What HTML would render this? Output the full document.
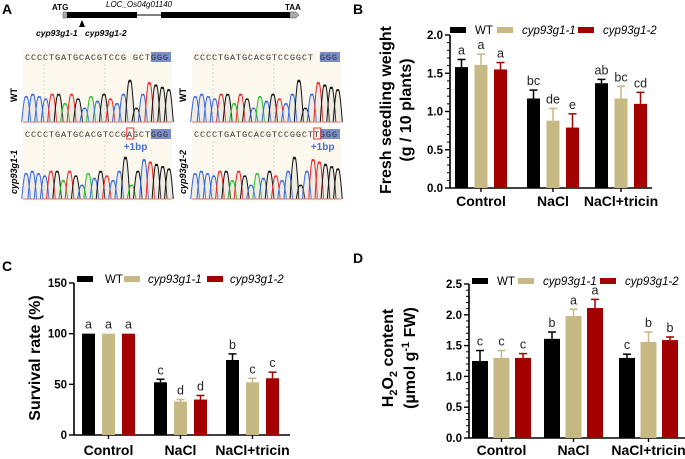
<!DOCTYPE html>
<html><head><meta charset="utf-8"><style>
body{margin:0;background:#fff;width:685px;height:459px;overflow:hidden}
svg{position:absolute;left:0;top:0;font-family:"Liberation Sans",Arial,sans-serif}
</style></head><body>
<svg id="fig" width="685" height="459"></svg>
<script>
// ---- data ----
const categories = ["Control","NaCl","NaCl+tricin"];
const seriesNames = ["WT","cyp93g1-1","cyp93g1-2"];
const colors = ["#000000","#c6b983","#a30000"];
// Panel B: fresh weight
const bWT = [1.58,1.17,1.37], bC1 = [1.61,0.88,1.17], bC2 = [1.55,0.79,1.10];
const bErrWT = [0.10,0.11,0.05], bErrC1 = [0.14,0.16,0.16], bErrC2 = [0.09,0.18,0.15];
const bLetters = [["a","a","a"],["bc","de","e"],["ab","bc","cd"]];
const bTicks = ["0.0","0.5","1.0","1.5","2.0"];
// Panel C: survival rate
const cWT = [100,52,74], cC1 = [100,33,52], cC2 = [100,35,56];
const cErrWT = [0,3,6], cErrC1 = [0,2,4], cErrC2 = [0,4,6];
const cLetters = [["a","a","a"],["c","d","d"],["b","c","c"]];
const cTicks = ["0","50","100","150"];
// Panel D: H2O2
const dWT = [1.25,1.61,1.30], dC1 = [1.30,1.98,1.56], dC2 = [1.30,2.11,1.59];
const dErrWT = [0.17,0.11,0.06], dErrC1 = [0.12,0.11,0.16], dErrC2 = [0.07,0.14,0.05];
const dLetters = [["c","c","c"],["b","a","a"],["c","b","b"]];
const dTicks = ["0.0","0.5","1.0","1.5","2.0","2.5"];
// Panel A: chromatogram sequences and peak heights
const seqs = ["CCCCTGATGCACGTCCGGCTGGG","CCCCTGATGCACGTCCGGCTGGG","CCCCTGATGCACGTCCGAGCTGGG","CCCCTGATGCACGTCCGGCTTGGG"];
const peakH = [0.55,0.6,0.55,0.5,0.6,0.6,0.4,0.6,0.5,0.3,0.55,0.45,0.6,0.5,0.4,0.6,0.9,0.3,0.6,0.85,0.8,0.75,0.7,0.65];

const NS="http://www.w3.org/2000/svg";
const fig=document.getElementById('fig');
function mk(tag,attrs,parent){const e=document.createElementNS(NS,tag);for(const k in attrs)e.setAttribute(k,attrs[k]);(parent||fig).appendChild(e);return e;}
function txt(s,attrs,parent){const e=mk('text',attrs,parent);e.textContent=s;return e;}

function chart(cfg, vals, errs, letters, ticks){
  const g=mk('g',{});
  
  
  const y=v=>cfg.y0-(v/cfg.max)*(cfg.y0-cfg.yTop);
  const ya=mk('line',{x1:cfg.ax,y1:cfg.yTop,x2:cfg.ax,y2:cfg.y0,stroke:'#000','stroke-width':1.6},g);
  
  
  const xa=mk('line',{x1:cfg.ax,y1:cfg.y0,x2:cfg.xEnd,y2:cfg.y0,stroke:'#000','stroke-width':1.6},g);
  
  
  ticks.forEach((t,i)=>{
    const v=parseFloat(t), yy=y(v);
    mk('line',{x1:cfg.ax-5,y1:yy,x2:cfg.ax,y2:yy,stroke:'#000','stroke-width':1.4},g);
    const tl=txt(t,{x:cfg.ax-7,y:yy+4,'text-anchor':'end','font-size':11.5,'font-weight':'bold'},g);
    
    
    if(cfg.minor && i<ticks.length-1){
      const nv=parseFloat(ticks[i+1]);
      for(let k=1;k<5;k++){const my=y(v+(nv-v)*k/5);mk('line',{x1:cfg.ax-3,y1:my,x2:cfg.ax,y2:my,stroke:'#000','stroke-width':1},g);}
    }
  });
  categories.forEach((c,ci)=>{
    const gx=cfg.groupX[ci];
    for(let s=0;s<3;s++){
      const bx=gx+s*cfg.step, v=vals[s][ci], e=errs[s][ci];
      const r=mk('rect',{x:bx,y:y(v),width:cfg.bw,height:cfg.y0-y(v),fill:colors[s]},g);
      
      
      const cx=bx+cfg.bw/2;
      if(e>0){
        mk('line',{x1:cx,y1:y(v),x2:cx,y2:y(v+e),stroke:colors[s],'stroke-width':1.5},g);
        mk('line',{x1:cx-4,y1:y(v+e),x2:cx+4,y2:y(v+e),stroke:colors[s],'stroke-width':1.5},g);
      }
      const l=txt(letters[ci][s],{x:cx,y:y(v+e)-5,'text-anchor':'middle','font-size':12.5,fill:'#222'},g);
      
      
    }
    const mid=gx+cfg.step+cfg.bw/2;
    mk('line',{x1:mid,y1:cfg.y0,x2:mid,y2:cfg.y0+4,stroke:'#000','stroke-width':1.4},g);
    const cl=txt(c,{x:mid,y:cfg.catY,'text-anchor':'middle','font-size':14,'font-weight':'bold'},g);
    
    
  });
  cfg.leg.forEach((p,s)=>{
    const lr=mk('rect',{x:p[0],y:cfg.legY-3,width:16,height:6,fill:colors[s]},g);
    
    
    const lt=txt(seriesNames[s],{x:p[1],y:cfg.legY+4,'font-size':11.5,'font-style':s?'italic':'normal'},g);
    
    
  });
  return g;
}

chart({name:'chart-b',ax:450,yTop:35,y0:188,max:2.0,xEnd:652,groupX:[455,527,595],step:19.5,bw:13,catY:206,minor:true,legY:30,leg:[[450,475],[497,522],[578,603]]},
  [bWT,bC1,bC2],[bErrWT,bErrC1,bErrC2],bLetters,bTicks);
chart({name:'chart-c',ax:74,yTop:283,y0:435,max:150,xEnd:290,groupX:[82,154,226],step:20,bw:13,catY:455,minor:false,legY:279,leg:[[77,105],[124,148],[207,230]]},
  [cWT,cC1,cC2],[cErrWT,cErrC1,cErrC2],cLetters,cTicks);
chart({name:'chart-d',ax:469,yTop:284,y0:438,max:2.5,xEnd:685,groupX:[472,544,619],step:21.5,bw:16,catY:455,minor:true,legY:281,leg:[[472,497],[518,543],[600,625]]},
  [dWT,dC1,dC2],[dErrWT,dErrC1,dErrC2],dLetters,dTicks);

function ytitle(lines,x0,cy,name,gap){
  const t=mk('text',{transform:`translate(${x0},${cy}) rotate(-90)`,'text-anchor':'middle','font-size':16,'font-weight':'bold'});
  
  
  lines.forEach((l,i)=>{const ts=mk('tspan',{x:0,dy:i?gap:0},t);ts.innerHTML=l;});
}
ytitle(["Fresh seedling weight","(g / 10 plants)"],391,110,'y-axis-title-b',20);
ytitle(["Survival rate (%)"],40,358,'y-axis-title-c',0);
ytitle(["H<tspan font-size='11' dy='4'>2</tspan><tspan dy='-4'>O</tspan><tspan font-size='11' dy='4'>2</tspan><tspan dy='-4'> content</tspan>","(µmol g<tspan font-size='11' dy='-6'>-1</tspan><tspan dy='6'> FW)</tspan>"],393,358,'y-axis-title-d',22);

[["A",2,14],["B",353,14],["C",2,271],["D",353,263]].forEach(p=>{
  const l=txt(p[0],{x:p[1],y:p[2],'font-size':14,'font-weight':'bold'});
  
  
});

const gene=mk('g',{});


mk('rect',{x:63,y:12,width:4,height:6,fill:'#aaa',stroke:'#555','stroke-width':0.5},gene);
mk('rect',{x:67,y:12,width:70,height:6,fill:'#000'},gene);
mk('line',{x1:137,y1:15,x2:161,y2:15,stroke:'#000','stroke-width':1},gene);
mk('rect',{x:161,y:12,width:129,height:6,fill:'#000'},gene);
mk('path',{d:'M290 12 L296 12 L299 15 L296 18 L290 18Z',fill:'#aaa',stroke:'#555','stroke-width':0.5},gene);
mk('path',{d:'M82 20 L79 27 L85 27Z',fill:'#000'},gene);
txt('ATG',{x:52,y:10,'font-size':8,'font-weight':'bold'},gene);
txt('LOC_Os04g01140',{x:106,y:7,'font-size':8,'font-style':'italic'},gene);
txt('TAA',{x:285,y:10,'font-size':8,'font-weight':'bold'},gene);
txt('cyp93g1-1',{x:36,y:36,'font-size':8.5,'font-weight':'bold','font-style':'italic'},gene);
txt('cyp93g1-2',{x:85,y:36,'font-size':8.5,'font-weight':'bold','font-style':'italic'},gene);

const baseCol={A:'#22bb22',C:'#3366dd',G:'#111',T:'#ee2222'};
const boxes=[[23,50,'WT'],[192,50,'WT'],[23,127,'cyp93g1-1'],[192,127,'cyp93g1-2']];
boxes.forEach((b,bi)=>{
  const g=mk('g',{});
  
  
  const [x0,y0,lab]=b, w=149, h=74;
  mk('rect',{x:x0,y:y0,width:w,height:h,fill:'#fcf8ee'},g);
  const seq=seqs[bi];
  let disp=seq;
  if(bi===0) disp=seq.slice(0,17)+' '+seq.slice(17);
  if(bi===1) disp=seq.slice(0,20)+' '+seq.slice(20);
  const pitch=(w-4)/24;
  mk('rect',{x:x0+2+21*pitch-1,y:y0+2,width:3*pitch+2,height:10,fill:'#7a8fc8'},g);
  mk('line',{x1:x0+21,y1:y0+14,x2:x0+21,y2:y0+h,stroke:'#bbb','stroke-dasharray':'2,2','stroke-width':0.6},g);
  mk('line',{x1:x0+82,y1:y0+14,x2:x0+82,y2:y0+h,stroke:'#bbb','stroke-dasharray':'2,2','stroke-width':0.6},g);
  const st=txt(disp,{x:x0+2,y:y0+10,'font-size':8.6,'font-family':'Liberation Mono, monospace',textLength:pitch*24-2,lengthAdjust:'spacing','fill':'#333'},g);
  
  
  if(bi>=2){
    const pos= bi===2?17:20;
    mk('rect',{x:x0+2+pos*pitch-1,y:y0+1,width:pitch+1,height:11,fill:'none',stroke:'#e33','stroke-width':1},g);
    txt('+1bp',{x:x0+2+pos*pitch-4,y:y0+23,'font-size':10,'font-weight':'bold',fill:'#4a6fd0'},g);
  }
  const n=seq.length, base=y0+h-2, pw=w/n;
  for(let i=0;i<n;i++){
    const c=x0+pw*(i+0.5), ht=peakH[i%peakH.length]*(h-30);
    mk('path',{d:`M${c-pw*0.7} ${base} Q${c-pw*0.25} ${base-ht*1.3} ${c} ${base-ht} Q${c+pw*0.25} ${base-ht*1.3} ${c+pw*0.7} ${base}`,fill:'rgba(200,200,200,0.25)',stroke:baseCol[seq[i]],'stroke-width':1},g);
  }
  mk('line',{x1:x0,y1:base,x2:x0+w,y2:base,stroke:'#d77','stroke-width':1},g);
  const lt=mk('text',{transform:`translate(${x0-6},${y0+45}) rotate(-90)`,'font-size':9,'font-weight':'bold','font-style':lab==='WT'?'normal':'italic','text-anchor':'middle'});
  lt.textContent=lab;
  
  
});
</script>
</body></html>
